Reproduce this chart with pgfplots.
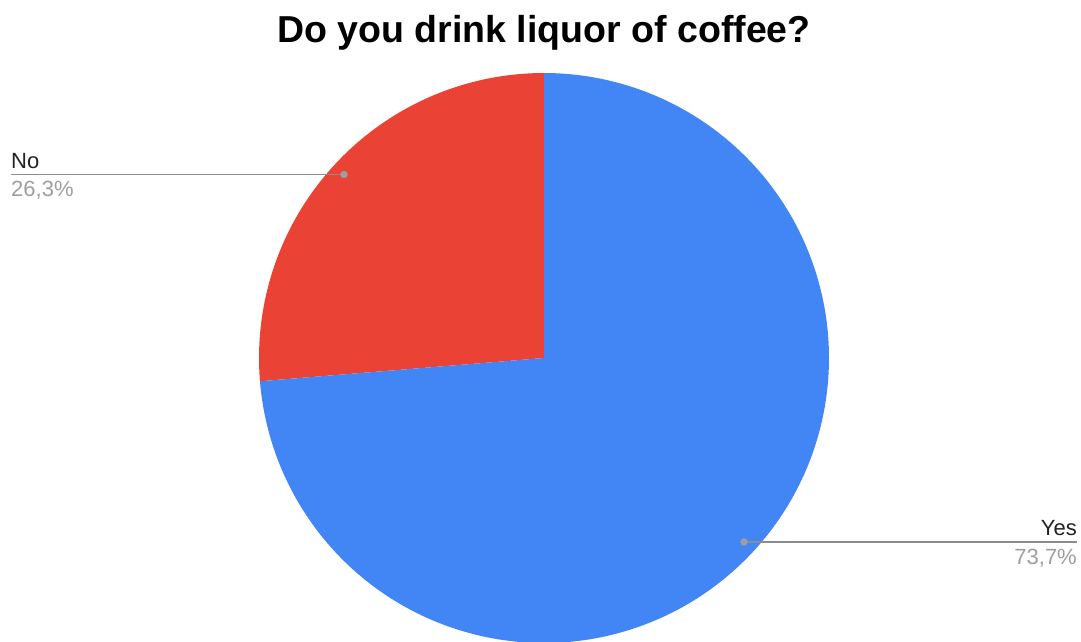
\documentclass[border=0pt]{standalone}
\usepackage{pgfplots}
\usepackage{pgfplotstable}
\usepackage{fontspec}
\setmainfont{Liberation Sans}
\pgfplotsset{compat=1.18}
\definecolor{pieblue}{HTML}{4285F4}
\definecolor{piered}{HTML}{EA4335}
\definecolor{leadgray}{HTML}{8C8C8C}
\definecolor{dotgray}{HTML}{9E9E9E}
\definecolor{pctgray}{HTML}{9E9E9E}
\definecolor{labtext}{HTML}{222222}
\pgfplotstableread{
label value
No 26.3
Yes 73.7
}\piedata
\pgfplotstablegetelem{0}{value}\of\piedata \let\vNo\pgfplotsretval
\pgfplotstablegetelem{1}{value}\of\piedata \let\vYes\pgfplotsretval
\pgfmathsetmacro{\aStart}{90}
\pgfmathsetmacro{\aMid}{90+360*\vNo/(\vNo+\vYes)}
\pgfmathsetmacro{\aEnd}{450}
\begin{document}
\begin{tikzpicture}
\begin{axis}[
  name=ax,
  scale only axis,
  width=1081pt, height=641pt,
  xmin=0, xmax=1081, ymin=0, ymax=641,
  y dir=reverse,
  hide axis,
  clip=true,
]
% No slice
\addplot[draw=none, fill=piered, domain=\aStart:\aMid, samples=120, variable=\t]
  ({544+285*cos(\t)}, {358-285*sin(\t)}) -- (axis cs:544,358) -- cycle;
% Yes slice
\addplot[draw=none, fill=pieblue, domain=\aMid:\aEnd, samples=240, variable=\t]
  ({544+285*cos(\t)}, {358-285*sin(\t)}) -- (axis cs:544,358) -- cycle;
% leader lines
\addplot[leadgray, line width=1.3pt] coordinates {(11,174.5) (344,174.5)};
\addplot[leadgray, line width=1.3pt] coordinates {(744,542) (1077,542)};
\addplot[only marks, mark=*, mark size=3.5pt, dotgray, mark options={draw=dotgray, fill=dotgray}] coordinates {(344,174.5) (744,542)};
% labels
\node[anchor=base west, inner sep=0pt, text=labtext, font=\fontsize{22}{26}\selectfont] at (axis cs:11,168) {No};
\node[anchor=base west, inner sep=0pt, text=pctgray, font=\fontsize{22}{26}\selectfont] at (axis cs:11,196) {26,3\%};
\node[anchor=base east, inner sep=0pt, text=labtext, font=\fontsize{22}{26}\selectfont] at (axis cs:1077,535) {Yes};
\node[anchor=base east, inner sep=0pt, text=pctgray, font=\fontsize{22}{26}\selectfont] at (axis cs:1077,564) {73,7\%};
% title
\node[anchor=base, inner sep=0pt, font=\fontsize{37.5}{44}\selectfont\bfseries] at (axis cs:544,42) {Do you drink liquor of coffee?};
\end{axis}
\pgfresetboundingbox
\path (ax.south west) rectangle (ax.north east);
\end{tikzpicture}
\end{document}
